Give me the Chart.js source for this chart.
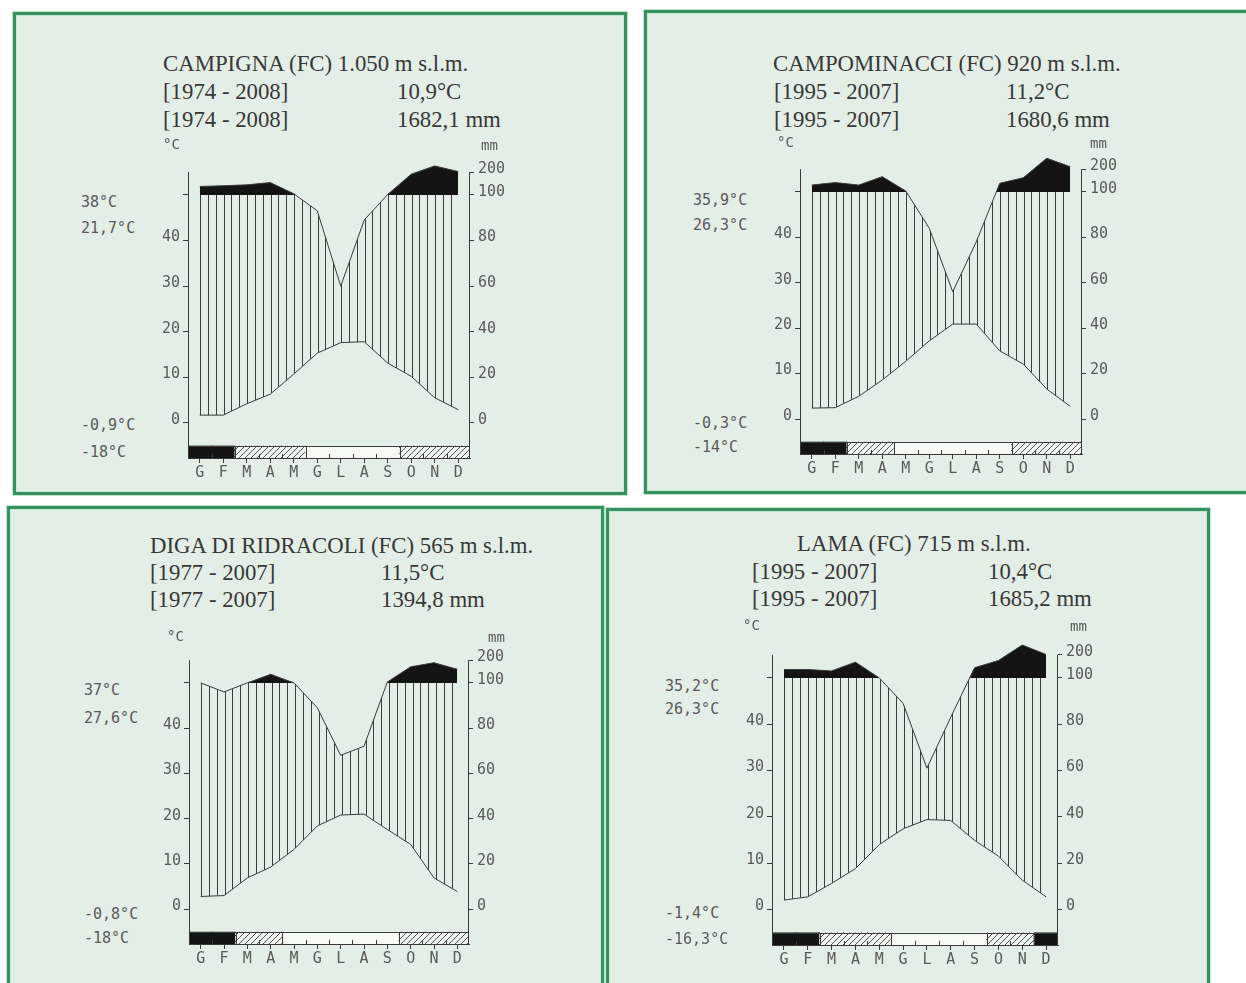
<!DOCTYPE html>
<html><head><meta charset="utf-8">
<script src="https://cdn.jsdelivr.net/npm/chart.js@4.4.1/dist/chart.umd.min.js"></script>
<style>
html,body{margin:0;padding:0;background:#fff;width:1246px;height:983px;overflow:hidden;position:relative}
.panel{position:absolute;box-sizing:border-box;border:3px solid #37905f;background:#e2eee6;box-shadow:0 0 0 1px #bfe8cf, inset 0 0 0 1px #c6ead4}
.t{position:absolute;white-space:nowrap;transform:translateY(-50%);line-height:1}
.serif{font-family:"Liberation Serif","Times New Roman",serif;font-size:22.8px;color:#383838}
.mono{font-family:"DejaVu Sans Mono",monospace;font-size:15px;color:#5a5a5a}
.unit{font-family:"DejaVu Sans Mono",monospace;font-size:14px;color:#5a5a5a}
canvas{position:absolute}
</style></head><body>
<script>
// ---------- data ----------
const months = ['G','F','M','A','M','G','L','A','S','O','N','D'];
const tempTicks = [0, 10, 20, 30, 40];
const precTicks = [0, 20, 40, 60, 80, 100, 200];

const campignaTemp  = [1.7, 1.7, 4.2, 6.3, 10.7, 15.3, 17.6, 17.8, 13.1, 10.2, 5.5, 2.9];
const campignaPrec  = [137, 140, 144, 154, 105, 93, 60, 89, 102, 191, 227, 202];
const campignaFrost = [2, 2, 1, 1, 1, 0, 0, 0, 0, 1, 1, 1];
const campignaText  = ['CAMPIGNA (FC) 1.050 m s.l.m.', '[1974 - 2008]', '10,9°C', '[1974 - 2008]', '1682,1 mm'];
const campignaExtr  = ['38°C', '21,7°C', '-0,9°C', '-18°C'];

const campominacciTemp  = [2.4, 2.5, 5.0, 8.6, 12.7, 17.2, 20.9, 20.9, 15.0, 12.1, 6.6, 2.8];
const campominacciPrec  = [130, 141, 130, 167, 104, 84, 56, 78, 138, 162, 248, 211];
const campominacciFrost = [2, 2, 1, 1, 0, 0, 0, 0, 0, 1, 1, 1];
const campominacciText  = ['CAMPOMINACCI (FC) 920 m s.l.m.', '[1995 - 2007]', '11,2°C', '[1995 - 2007]', '1680,6 mm'];
const campominacciExtr  = ['35,9°C', '26,3°C', '-0,3°C', '-14°C'];

const ridracoliTemp  = [2.8, 3.0, 6.9, 9.3, 13.2, 18.4, 20.8, 21.0, 17.6, 14.3, 6.9, 3.9];
const ridracoliPrec  = [100, 96, 100, 138, 100, 89, 68, 72, 104, 171, 189, 160];
const ridracoliFrost = [2, 2, 1, 1, 0, 0, 0, 0, 0, 1, 1, 1];
const ridracoliText  = ['DIGA DI RIDRACOLI (FC) 565 m s.l.m.', '[1977 - 2007]', '11,5°C', '[1977 - 2007]', '1394,8 mm'];
const ridracoliExtr  = ['37°C', '27,6°C', '-0,8°C', '-18°C'];

const lamaTemp  = [2.0, 2.7, 5.6, 8.8, 14.0, 17.4, 19.4, 19.2, 14.9, 11.5, 6.3, 2.7];
const lamaPrec  = [136, 136, 130, 168, 100, 89, 61, 83, 144, 175, 242, 201];
const lamaFrost = [2, 2, 1, 1, 1, 0, 0, 0, 0, 1, 1, 2];
const lamaText  = ['LAMA (FC) 715 m s.l.m.', '[1995 - 2007]', '10,4°C', '[1995 - 2007]', '1685,2 mm'];
const lamaExtr  = ['35,2°C', '26,3°C', '-1,4°C', '-16,3°C'];

// ---------- layout / style ----------
const Y_MIN = -7.7, BAND_TOP = -5.1, AXIS_TOP = 55, WET = 50;
const AXL = 50, AXR = 50, PT = 12, AXB = 26;
const INK = '#3a3a3a';
const TICKFONT = {family: 'DejaVu Sans Mono', size: 15};
const NONE = 'rgba(0,0,0,0)';

// x0/x12: pixel of month axis start/end; top/bottom: chart area; y50: pixel of the 50°C / 100 mm line
const layouts = [
  {frame:[13,12,614,483], x0:188, x12:470, top:157, bottom:458, y50:194,
   title:[163,64], l2:[163,92], v2:[397,92], l3:[163,120], v3:[397,120], uc:[163,144], um:[481,145],
   ex:81, ey:[202,228,425,452]},
  {frame:[644,10,610,484], x0:800, x12:1082, top:154, bottom:454, y50:191,
   title:[773,64], l2:[774,92], v2:[1006,92], l3:[774,120], v3:[1006,120], uc:[777,142], um:[1090,143],
   ex:693, ey:[200,225,423,447]},
  {frame:[7,506,597,490], x0:189, x12:469, top:648, bottom:944, y50:682,
   title:[150,546], l2:[150,573], v2:[381,573], l3:[150,600], v3:[381,600], uc:[167,636], um:[488,637],
   ex:84, ey:[690,718,914,938]},
  {frame:[606,508,604,490], x0:772, x12:1058, top:640, bottom:945, y50:677,
   title:[797,544], l2:[752,572], v2:[988,572], l3:[752,599], v3:[988,599], uc:[743,625], um:[1070,626],
   ex:665, ey:[686,709,913,939]}
];

const stations = [
  {temp:campignaTemp, prec:campignaPrec, frost:campignaFrost, text:campignaText, extr:campignaExtr},
  {temp:campominacciTemp, prec:campominacciPrec, frost:campominacciFrost, text:campominacciText, extr:campominacciExtr},
  {temp:ridracoliTemp, prec:ridracoliPrec, frost:ridracoliFrost, text:ridracoliText, extr:ridracoliExtr},
  {temp:lamaTemp, prec:lamaPrec, frost:lamaFrost, text:lamaText, extr:lamaExtr}
];

// Walter-Lieth scale: 10 degC = 20 mm up to 100 mm, then 1:10 reduction
const toT = p => p <= 100 ? p / 2 : 50 + (p - 100) / 20;

function addText(cls, str, x, y) {
  const s = document.createElement('span');
  s.className = 't ' + cls;
  s.textContent = str;
  s.style.left = x + 'px';
  s.style.top = y + 'px';
  document.body.appendChild(s);
}

function diagPattern() {
  const c = document.createElement('canvas'); c.width = 6; c.height = 6;
  const g = c.getContext('2d');
  g.fillStyle = '#eef5f0'; g.fillRect(0, 0, 6, 6);
  g.strokeStyle = '#555'; g.lineWidth = 1;
  g.beginPath();
  g.moveTo(0, 6); g.lineTo(6, 0);
  g.moveTo(-1, 1); g.lineTo(1, -1);
  g.moveTo(5, 7); g.lineTo(7, 5);
  g.stroke();
  return g.createPattern(c, 'repeat');
}
// vertical hatching: 3 lines per month, period of two months
function vPattern(monthPx) {
  const w = Math.round(2 * monthPx);
  const c = document.createElement('canvas'); c.width = w; c.height = 4;
  const g = c.getContext('2d');
  g.fillStyle = '#3c3c3c';
  for (let k = 0; k < 6; k++) g.fillRect(Math.round(k * w / 6), 0, 1, 4);
  return g.createPattern(c, 'repeat');
}

const axisLines = {
  id: 'axisLines',
  afterDatasetsDraw(chart) {
    const ctx = chart.ctx, y = chart.scales.y, a = chart.chartArea;
    const yb = y.getPixelForValue(Y_MIN), yt = y.getPixelForValue(AXIS_TOP);
    ctx.save();
    ctx.strokeStyle = INK; ctx.lineWidth = 1;
    ctx.beginPath();
    const xl = Math.round(a.left) + 0.5, xr = Math.round(a.right) - 0.5;
    ctx.moveTo(xl, yb); ctx.lineTo(xl, yt);
    ctx.moveTo(xr, yb); ctx.lineTo(xr, yt);
    ctx.stroke();
    ctx.restore();
  }
};

function makeChart(st, L) {
  const cv = document.createElement('canvas');
  const w = (L.x12 - L.x0) + AXL + AXR;
  const h = (L.bottom - L.top) + PT + AXB;
  cv.width = w; cv.height = h;
  cv.style.left = (L.x0 - AXL) + 'px';
  cv.style.top = (L.top - PT) + 'px';
  cv.style.width = w + 'px'; cv.style.height = h + 'px';
  document.body.appendChild(cv);

  const monthPx = (L.x12 - L.x0) / 12;
  const ppd = (L.bottom - L.y50) / (WET - Y_MIN);
  const yMax = Y_MIN + (L.bottom - L.top) / ppd;
  const vpat = vPattern(monthPx);
  const dpat = diagPattern();
  const frost = st.frost;
  const precT = st.prec.map((v, i) => ({x: i + 0.5, y: toT(v)}));

  const hatchAlign = {
    id: 'hatchAlign',
    afterLayout(chart) {
      const x0 = Math.round(chart.scales.x.getPixelForValue(0.5));
      vpat.setTransform(new DOMMatrix().translate(x0, 0));
    }
  };
  // outline of the frost band: top edge, class changes, small month ticks
  const frostOutline = {
    id: 'frostOutline',
    afterDatasetsDraw(chart) {
      const ctx = chart.ctx, xs = chart.scales.x, ys = chart.scales.y;
      const yt = Math.round(ys.getPixelForValue(BAND_TOP)) + 0.5;
      const yb = Math.round(ys.getPixelForValue(Y_MIN));
      ctx.save();
      ctx.strokeStyle = INK; ctx.lineWidth = 1;
      ctx.beginPath();
      ctx.moveTo(xs.getPixelForValue(0), yt); ctx.lineTo(xs.getPixelForValue(12), yt);
      for (let i = 1; i < 12; i++) {
        const x = Math.round(xs.getPixelForValue(i)) + 0.5;
        if (frost[i] !== frost[i - 1]) { ctx.moveTo(x, yt); ctx.lineTo(x, yb); }
        else { ctx.moveTo(x, yb); ctx.lineTo(x, yb - 4); }
      }
      ctx.stroke();
      ctx.restore();
    }
  };

  new Chart(cv, {
    type: 'line',
    data: {
      datasets: [
        {label: 'Temperatura', data: st.temp.map((v, i) => ({x: i + 0.5, y: v})),
         borderColor: INK, borderWidth: 1, pointRadius: 0, fill: false, tension: 0, order: 1},
        {label: 'Precipitazioni', data: precT,
         borderColor: INK, borderWidth: 1, pointRadius: 0, tension: 0, order: 1,
         fill: {target: {value: WET}, above: '#141414', below: NONE}},
        {label: 'Periodo umido', data: precT,
         borderColor: NONE, borderWidth: 1, pointRadius: 0, tension: 0, order: 2,
         fill: {target: 0, above: vpat, below: NONE}},
        {type: 'bar', label: 'Gelo', data: frost.map((f, i) => ({x: i + 0.5, y: [Y_MIN, BAND_TOP]})),
         backgroundColor: frost.map(f => f === 2 ? '#141414' : (f === 1 ? dpat : '#f7fbf8')),
         borderWidth: 0, borderSkipped: false, barPercentage: 1, categoryPercentage: 1, grouped: false,
         inflateAmount: 0.5, order: 0}
      ]
    },
    options: {
      responsive: false, animation: false, devicePixelRatio: 1, events: [],
      layout: {padding: {top: PT, left: 0, right: 0, bottom: 0}},
      plugins: {legend: {display: false}, tooltip: {enabled: false}},
      scales: {
        x: {type: 'linear', min: 0, max: 12, offset: false, position: 'bottom',
            afterFit: s => { s.height = AXB; },
            afterBuildTicks: s => { s.ticks = [0,1,2,3,4,5,6,7,8,9,10,11,12].map(v => ({value: v})); },
            grid: {drawOnChartArea: false, drawTicks: true, tickLength: 5, color: INK},
            border: {display: true, color: INK, width: 1},
            ticks: {autoSkip: false, maxRotation: 0, minRotation: 0, padding: 1, labelOffset: monthPx / 2,
                    color: '#5a5a5a', font: TICKFONT, callback: (v, i) => i < 12 ? months[i] : ''}},
        y: {type: 'linear', position: 'left', min: Y_MIN, max: yMax,
            afterFit: s => { s.width = AXL; },
            afterBuildTicks: s => { s.ticks = tempTicks.concat([WET]).map(v => ({value: v})); },
            grid: {drawOnChartArea: false, drawTicks: true, tickLength: 5, color: INK},
            border: {display: false},
            ticks: {autoSkip: false, padding: 3, labelOffset: -3, color: '#5a5a5a', font: TICKFONT,
                    callback: (v, i) => i < tempTicks.length ? String(tempTicks[i]) : ''}},
        y2: {type: 'linear', position: 'right', min: Y_MIN, max: yMax,
            afterFit: s => { s.width = AXR; },
            afterBuildTicks: s => { s.ticks = precTicks.map(p => ({value: toT(p)})); },
            grid: {drawOnChartArea: false, drawTicks: true, tickLength: 4, color: INK},
            border: {display: false},
            ticks: {autoSkip: false, padding: 4, labelOffset: -3, color: '#5a5a5a', font: TICKFONT,
                    callback: (v, i) => String(precTicks[i])}}
      }
    },
    plugins: [hatchAlign, frostOutline, axisLines]
  });
}

stations.forEach((st, k) => {
  const L = layouts[k];
  const p = document.createElement('div');
  p.className = 'panel';
  p.style.left = L.frame[0] + 'px'; p.style.top = L.frame[1] + 'px';
  p.style.width = L.frame[2] + 'px'; p.style.height = L.frame[3] + 'px';
  document.body.appendChild(p);
});
stations.forEach((st, k) => {
  const L = layouts[k];
  makeChart(st, L);
  addText('serif', st.text[0], L.title[0], L.title[1]);
  addText('serif', st.text[1], L.l2[0], L.l2[1]);
  addText('serif', st.text[2], L.v2[0], L.v2[1]);
  addText('serif', st.text[3], L.l3[0], L.l3[1]);
  addText('serif', st.text[4], L.v3[0], L.v3[1]);
  addText('unit', '°C', L.uc[0], L.uc[1]);
  addText('unit', 'mm', L.um[0], L.um[1]);
  st.extr.forEach((e, j) => addText('mono', e, L.ex, L.ey[j]));
});
</script>
</body></html>
